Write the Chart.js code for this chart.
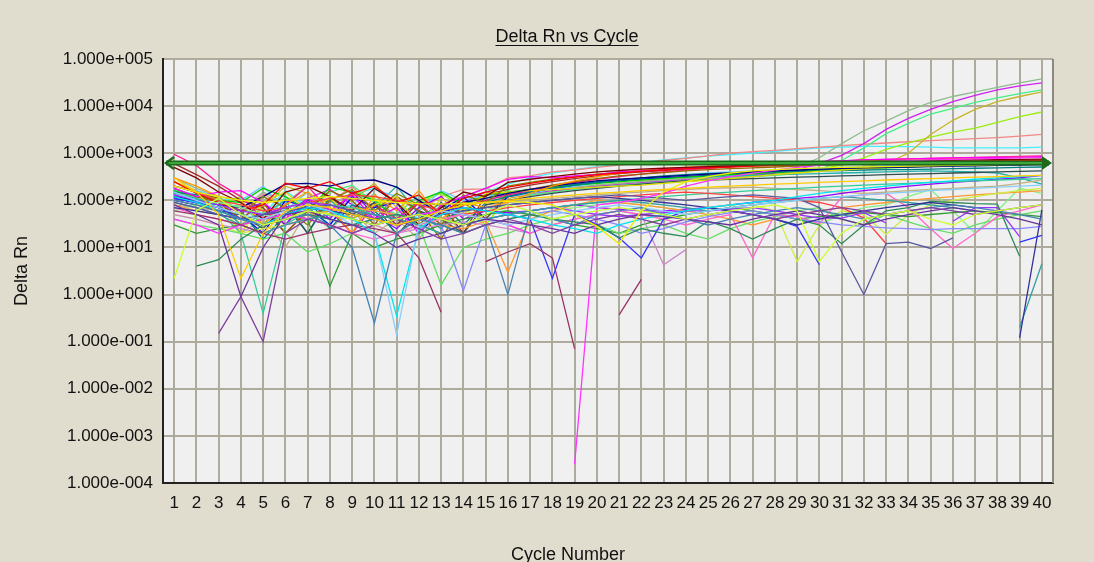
<!DOCTYPE html>
<html>
<head>
<meta charset="utf-8">
<title>Delta Rn vs Cycle</title>
<script src="https://cdn.jsdelivr.net/npm/chart.js@4.4.1/dist/chart.umd.min.js"></script>
<style>
  html, body { margin: 0; padding: 0; background: #e0ddcf; }
  #wrap { width: 1094px; height: 562px; }
</style>
</head>
<body>
<div id="wrap"><canvas id="rnChart" width="1094" height="562"></canvas></div>
<script>
// cycle numbers on the x axis
var cycles = [1, 2, 3, 4, 5, 6, 7, 8, 9, 10,
  11, 12, 13, 14, 15, 16, 17, 18, 19, 20,
  21, 22, 23, 24, 25, 26, 27, 28, 29, 30,
  31, 32, 33, 34, 35, 36, 37, 38, 39, 40];

// decades shown on the y axis
var yTicks = [1e-4, 1e-3, 1e-2, 1e-1, 1e0, 1e1, 1e2, 1e3, 1e4, 1e5];

var threshold = 620;

// amplifying wells
var rnA1 = [300, 180, 120, 60, 150, 90, 200, 120, 60, 140,
  40, 90, 60, 120, 180, 130, 150, 170, 190, 210,
  230, 250, 270, 290, 300, 310, 320, 350, 500, 800,
  1600, 3000, 4800, 8000, 12000, 16000, 20000, 25000, 31000, 38000];
var rnA2 = [200, 150, 90, 40, 90, 30, 110, 170, 80, 40,
  120, 60, 25, 90, 150, 120, 140, 160, 180, 200,
  220, 240, 260, 280, 300, 320, 340, 380, 450, 600,
  900, 1600, 3200, 5500, 8500, 12500, 17000, 22000, 27000, 31000];
var rnA3 = [150, 110, 70, 80, 30, 120, 60, 150, 210, 90,
  50, 130, 40, 60, 110, 160, 130, 150, 170, 190,
  210, 230, 250, 265, 280, 300, 320, 340, 370, 450,
  700, 1300, 2600, 4300, 6800, 9000, 12000, 15000, 18500, 22000];
var rnA4 = [250, 160, 100, 30, 70, 200, 140, 60, 100, 230,
  70, 30, 80, 50, 130, 110, 130, 150, 180, 210,
  230, 250, 270, 290, 300, 320, 340, 360, 390, 420,
  460, 520, 600, 1000, 2500, 5000, 8500, 12500, 16000, 20000];
var rnA5 = [120, 100, 80, 120, 60, 30, 90, 50, 160, 110,
  40, 90, 140, 70, 30, 120, 140, 160, 180, 200,
  220, 240, 260, 280, 300, 320, 350, 380, 420, 470,
  560, 800, 1200, 1650, 2200, 2800, 3400, 4500, 6000, 7500];
var rnA6 = [150, 120, 100, 50, 140, 70, 40, 90, 200, 60,
  110, 60, 120, 170, 175, 300, 330, 400, 440, 500,
  560, 620, 700, 780, 880, 1000, 1080, 1150, 1250, 1350,
  1450, 1550, 1650, 1750, 1850, 1950, 2050, 2150, 2300, 2500];
var rnA7 = [170, 130, 100, 110, 50, 160, 70, 30, 130, 180,
  90, 40, 70, 110, 150, 220, 300, 380, 450, 520,
  580, 640, 720, 800, 870, 940, 1000, 1100, 1200, 1300,
  1350, 1400, 1400, 1380, 1350, 1300, 1300, 1300, 1300, 1350];

// wells that level off near the threshold
var rnA8 = [500, 300, 150, 90, 40, 150, 200, 120, 60, 180,
  90, 30, 70, 150, 120, 240, 280, 320, 360, 400,
  430, 460, 480, 500, 520, 540, 560, 580, 600, 620,
  640, 660, 680, 690, 700, 710, 720, 730, 740, 750];
var rnA9 = [250, 140, 90, 60, 80, 230, 180, 250, 140, 200,
  90, 130, 50, 110, 150, 190, 230, 270, 310, 350,
  380, 410, 440, 470, 490, 510, 530, 550, 570, 590,
  610, 620, 630, 640, 650, 660, 670, 680, 690, 700];
var rnA10 = [180, 120, 150, 160, 90, 40, 110, 60, 130, 40,
  70, 20, 80, 120, 180, 280, 320, 300, 330, 350,
  400, 420, 450, 480, 510, 540, 570, 600, 630, 660,
  690, 720, 740, 760, 780, 800, 810, 820, 830, 850];
var rnA11 = [300, 200, 120, 100, 30, 80, 150, 70, 20, 130,
  60, 160, 40, 90, 70, 90, 140, 200, 260, 320,
  380, 430, 470, 500, 530, 560, 590, 610, 630, 650,
  670, 690, 710, 730, 750, 770, 790, 810, 830, 850];
var rnA12 = [200, 150, 110, 50, 120, 70, 30, 100, 170, 60,
  140, 80, 30, 130, 90, 200, 240, 280, 320, 360,
  390, 420, 450, 480, 500, 520, 540, 550, 560, 570,
  580, 590, 600, 610, 620, 630, 640, 650, 660, 670];
var rnB1 = [120, 100, 80, 70, 120, 220, 230, 200, 260, 270,
  190, 100, 50, 90, 110, 140, 170, 200, 230, 260,
  280, 300, 320, 340, 360, 380, 400, 420, 440, 460,
  480, 490, 500, 510, 520, 530, 540, 550, 560, 570];
var rnB2 = [250, 150, 100, 20, 90, 150, 60, 110, 40, 80,
  120, 30, 110, 60, 140, 150, 160, 170, 180, 190,
  200, 210, 230, 250, 270, 290, 320, 350, 380, 410,
  440, 470, 500, 520, 540, 560, 580, 600, 620, 640];
var rnB3 = [150, 130, 100, 60, 15, 50, 110, 25, 80, 60,
  20, 40, 90, 30, 90, 120, 150, 180, 210, 240,
  270, 300, 330, 350, 370, 380, 390, 400, 410, 420,
  430, 440, 450, 450, 460, 470, 480, 490, 500, 510];
var rnB4 = [180, 120, 90, 40, 90, 20, 60, 160, 100, 30,
  120, 60, 15, 90, 40, 140, 170, 210, 250, 290,
  330, 360, 390, 420, 450, 470, 490, 510, 530, 550,
  570, 590, 610, 630, 650, 670, 690, 700, 710, 720];
var rnB5 = [100, 80, 60, 50, 25, 80, 20, 120, 50, 90,
  18, 60, 40, 20, 80, 100, 120, 140, 160, 180,
  200, 220, 240, 260, 270, 280, 290, 300, 310, 320,
  330, 340, 350, 360, 370, 380, 390, 400, 410, 420];
var rnB6 = [130, 90, 70, 60, 90, 30, 100, 40, 150, 50,
  25, 70, 120, 40, 60, 55, 60, 70, 80, 70,
  65, 60, 60, 65, 70, 80, 90, 100, 110, 120,
  140, 160, 180, 200, 220, 240, 260, 280, 300, 340];
var rnB7 = [950, 550, 230, 120, 40, 80, 200, 60, 20, 80,
  40, 90, 30, 80, 100, 130, 160, 200, 240, 280,
  320, 360, 400, 440, 480, 520, 560, 600, 630, 660,
  690, 720, 740, 760, 780, 800, 820, 840, 860, 880];
var rnB8 = [600, 350, 200, 100, 70, 20, 60, 110, 40, 90,
  30, 90, 80, 20, 130, 170, 210, 250, 290, 330,
  370, 400, 430, 460, 490, 520, 550, 580, 610, 640,
  660, 680, 700, 720, 740, 760, 780, 800, 820, 840];
var rnB9 = [160, 120, 100, 90, 180, 120, 60, 190, 150, 100,
  40, 100, 150, 80, 130, 150, 170, 190, 210, 230,
  250, 270, 290, 310, 330, 350, 370, 390, 410, 430,
  450, 470, 490, 510, 530, 550, 570, 590, 610, 630];
var rnB10 = [110, 90, 60, 50, 20, 100, 70, 30, 120, 70,
  90, 20, 60, 120, 40, 120, 150, 180, 210, 240,
  260, 280, 300, 320, 340, 360, 380, 400, 420, 440,
  460, 480, 500, 520, 540, 560, 580, 600, 620, 640];
var rnB11 = [200, 160, 120, 100, 200, 60, 150, 60, 80, 170,
  120, 60, 160, 100, 130, 120, 140, 170, 200, 230,
  260, 290, 320, 350, 380, 400, 420, 440, 460, 480,
  500, 520, 540, 560, 580, 600, 620, 640, 660, 680];
var rnB12 = [80, 70, 60, 20, 40, 10, 60, 25, 60, 20,
  40, 15, 60, 20, 80, 90, 100, 110, 120, 130,
  140, 150, 160, 170, 180, 185, 190, 180, 170, 160,
  150, 140, 150, 160, 170, 180, 190, 200, 230, 270];
var rnC1 = [140, 110, 80, 30, 50, 100, 20, 100, 40, 70,
  200, 50, 25, 80, 100, 130, 160, 190, 220, 250,
  270, 290, 300, 310, 320, 330, 340, 350, 360, 370,
  380, 390, 400, 410, 420, 410, 400, 380, 300, 220];
var rnC2 = [60, 80, 90, 70, 50, 40, 50, 60, 70, 60,
  50, 40, 50, 60, 70, 60, 50, 60, 70, 80,
  90, 80, 70, 60, 70, 80, 60, 50, 40, 30,
  50, 70, 80, 120, 170, 60, 20, 60, 180, 140];

// noisy low wells
var rnC3 = [2.2, 60, 110, 50, 30, 40, 60, 50, 40, 30,
  40, 50, 40, 30, 50, 80, 60, 40, 50, 60,
  70, 60, 50, 40, 50, 60, 70, 80, 60, 5,
  20, 40, 50, 60, 40, 30, 50, 60, 70, 80];
var rnC4 = [300, 150, 50, 2.2, 20, 60, 80, 70, 50, 40,
  30, 40, 60, 80, 90, 100, 110, 120, 130, 140,
  150, 160, 170, 180, 190, 200, 210, 220, 230, 240,
  250, 260, 270, 280, 290, 300, 310, 320, 330, 340];
var rnC5 = [200, 150, 120, 100, 90, 100, 110, 120, 110, 100,
  90, 85, 83, 85, 90, 95, 90, 80, 50, 28,
  12, 60, 150, 250, 320, 380, 420, 450, 470, 490,
  500, 510, 520, 530, 540, 550, 560, 570, 580, 590];
var rnC6 = [null, null, 0.15, 0.9, 0.1, 20, 40, 30, 20, 30,
  40, 25, 15, 20, 30, 40, 30, 20, 30, 40,
  50, 40, 30, 40, 50, 60, 50, 40, 50, 60,
  70, 60, 50, 60, 70, 60, 50, 60, 70, 80];
var rnC7 = [80, 50, 30, 0.9, 10, 50, 60, 40, 30, 20,
  10, 15, 20, 30, 40, 35, 30, 25, 20, 30,
  40, 50, 45, 40, 35, 30, 40, 50, 60, 50,
  40, 30, 40, 50, 60, 70, 60, 50, 40, 30];
var rnC8 = [100, 80, 60, 40, 30, 40, 50, 30, 10, 0.25,
  20, 40, 30, 20, 30, 1.0, 60, 40, 30, 50,
  60, 70, 50, 40, 30, 40, 50, 60, 70, 60,
  50, 40, 50, 60, 70, 80, 70, 60, 50, 40];
var rnC9 = [150, 100, 70, 50, 40, 60, 80, 60, 30, 20,
  0.14, 30, 60, 50, 40, 30, 40, 50, 60, 70,
  80, 70, 60, 50, 60, 70, 80, 90, 100, 110,
  120, 130, 140, 150, 160, 170, 180, 190, 200, 210];
var rnC10 = [120, 90, 60, 40, 30, 50, 70, 60, 40, 20,
  0.35, 25, 50, 70, 60, 50, 40, 30, 25, 20,
  30, 40, 50, 60, 70, 80, 90, 100, 120, 140,
  160, 180, 200, 220, 240, 260, 280, 300, 320, 340];
var rnC11 = [60, 50, 40, 30, 20, 15, 20, 25, 30, 25,
  20, 6, 0.42, null, 5, 8, 12, 6, 0.07, null,
  0.37, 2.1, null, null, null, null, null, null, null, null,
  null, null, null, null, null, null, null, null, null, null];
var rnC12 = [40, 30, 20, 30, 40, 50, 40, 30, 20, 30,
  40, 50, 60, 50, 40, 30, 20, null, 0.00025, 80,
  90, 110, 140, 200, 260, 320, 380, 440, 500, 560,
  600, 640, 680, 700, 720, 740, 760, 780, 800, 820];
var rnD1 = [90, 70, 50, 40, 50, 60, 70, 80, 60, 40,
  30, 40, 50, 60, 70, 80, 90, 100, 110, 120,
  130, 120, 110, 100, 110, 120, 130, 120, 110, 70,
  8, 1, 12, 13, 9.5, 16, null, null, null, null];
var rnD2 = [70, 60, 50, 40, 50, 60, 70, 60, 50, 40,
  30, 40, 50, 60, 70, 80, 90, 100, 110, 120,
  110, 100, 90, 80, 70, 60, 50, 40, 30, 40,
  50, 60, 70, 80, 90, 80, 70, null, 0.12, 63];
var rnD3 = [90, 70, 50, 30, 20, 30, 40, 50, 60, 50,
  40, 30, 20, 30, 40, 50, 60, 70, 80, 90,
  100, 90, 80, 70, 60, 70, 80, 90, 100, 110,
  120, 110, 100, 90, 80, 70, 60, null, 0.2, 4.5];
var rnD4 = [null, 4, 5.5, 15, 30, 40, 50, 40, 30, 40,
  50, 40, 30, 20, 30, 40, 50, 40, 35, 30,
  16, 25, 20, 17, 36, 25, 15, 25, 40, 30,
  12, 30, 60, 70, 95, 90, 85, 83, 6.5, null];
var rnD5 = [110, 90, 70, 40, 30, 50, 70, 60, 40, 30,
  40, 50, 60, 70, 60, 50, 40, 2.2, 50, 31,
  16, 6, 40, 60, 70, 60, 50, 40, 28, 4.3,
  null, null, null, null, null, null, null, null, 13, 18];
var rnD6 = [130, 100, 80, 60, 50, 70, 90, 80, 60, 50,
  40, 50, 60, 50, 40, 50, 60, 70, 60, 50,
  45, 50, 55, 60, 60, 65, 70, 60, 50, 42,
  42, 55, 33, null, null, 36, 70, 70, 17, null];
var rnD7 = [90, 70, 50, 40, 30, 40, 50, 40, 30, 40,
  50, 40, 30, 1.2, 30, 40, 50, 60, 50, 40,
  30, 20, 25, 35, 45, 55, 60, 50, 40, 35,
  30, 28, 26, 25, 24, 25, 25, 25, 25, 28];
var rnD8 = [70, 50, 40, 30, 20, 30, 40, 30, 20, 15,
  20, 30, 40, 50, 40, 30, 20, 30, 40, 50,
  60, 50, 40, 30, 40, 50, 6, 50, 45, 32,
  115, 130, 140, 70, 25, 9.5, 20, 45, 60, 80];
var rnD9 = [50, 40, 30, 25, 20, 30, 40, 50, 40, 30,
  20, 25, 30, 35, 30, 25, 20, 30, 40, 50,
  60, 50, 4.3, 9, null, null, null, null, null, null,
  null, null, null, null, null, null, null, null, null, null];
var rnD10 = [40, 30, 25, 20, 15, 20, 8, 12, 20, 30,
  40, 30, 1.6, 10, 15, 20, 30, 40, 50, 30,
  20, 25, 30, 20, 15, 25, 35, 45, 60, 70,
  40, 30, 50, 35, 25, 20, 30, 40, 50, 60];
var rnD11 = [200, 150, 100, 80, 60, 70, 90, 110, 130, 120,
  100, 80, 60, 50, 60, 70, 80, 90, 100, 110,
  120, 130, 140, 150, 140, 130, 120, 110, 100, 90,
  70, 42, 12, null, null, null, null, null, null, null];
var rnD12 = [30, 20, 25, 30, 40, 50, 40, 1.5, 20, 10,
  15, 20, 30, 40, 50, 60, 50, 40, 30, 25,
  20, 30, 40, 50, 60, 70, 60, 50, 40, 45,
  50, 55, 50, 45, 50, 55, 60, 55, 50, 45];
var rnE1 = [50, 40, 30, 20, 25, 30, 40, 50, 40, 30,
  20, 30, 40, 50, 40, 30, 20, 30, 40, 50,
  60, 50, 40, 50, 60, 70, 80, 60, 5, 30,
  60, 50, 19, 50, 80, 100, 120, 140, 160, 180];
var rnE2 = [150, 100, 60, 20, 0.4, 30, 60, 80, 70, 50,
  40, 30, 20, 30, 40, 50, 60, 70, 80, 90,
  100, 110, 120, 130, 140, 150, 160, 170, 180, 190,
  200, 210, 220, 230, 240, 250, 260, 270, 280, 290];
var rnE3 = [80, 60, 50, 40, 30, 40, 50, 60, 70, 60,
  50, 40, 30, 25, 36, 3, 40, 60, 80, 100,
  90, 80, 70, 60, 50, 40, 30, 40, 50, 60,
  70, 80, 90, 100, 110, 120, 130, 140, 150, 160];

// drawing order: low noisy wells first, amplifying ones last
var wellNames = ['C3', 'C4', 'C5', 'C6', 'C7', 'C8', 'C9', 'C10', 'C11', 'C12',
  'D1', 'D2', 'D3', 'D4', 'D5', 'D6', 'D7', 'D8', 'D9', 'D10', 'D11', 'D12',
  'E1', 'E2', 'E3', 'C2',
  'A8', 'A9', 'A10', 'A11', 'A12', 'B1', 'B2', 'B3', 'B4', 'B5', 'B6',
  'B7', 'B8', 'B9', 'B10', 'B11', 'B12', 'C1',
  'A1', 'A2', 'A3', 'A4', 'A5', 'A6', 'A7'];
var wellData = [rnC3, rnC4, rnC5, rnC6, rnC7, rnC8, rnC9, rnC10, rnC11, rnC12,
  rnD1, rnD2, rnD3, rnD4, rnD5, rnD6, rnD7, rnD8, rnD9, rnD10, rnD11, rnD12,
  rnE1, rnE2, rnE3, rnC2,
  rnA8, rnA9, rnA10, rnA11, rnA12, rnB1, rnB2, rnB3, rnB4, rnB5, rnB6,
  rnB7, rnB8, rnB9, rnB10, rnB11, rnB12, rnC1,
  rnA1, rnA2, rnA3, rnA4, rnA5, rnA6, rnA7];
var wellColors = ['#ccff33', '#ffcc00', '#eeee00', '#8040a0', '#663399', '#4682b4', '#87cefa', '#00e5ee', '#993366', '#ff33ff',
  '#5a5aa0', '#333399', '#33a0a0', '#2e8b57', '#3333ff', '#9933ff', '#8888ff', '#ff66cc', '#cc88cc', '#66dd66', '#ff4040', '#339933',
  '#ccee44', '#33cc99', '#ff9933', '#88ee88',
  '#800000', '#ff0000', '#ff00ff', '#ff9900', '#808000', '#000080', '#dddd00', '#008080', '#996600', '#2f4f4f', '#9900ff',
  '#ff1493', '#a52a2a', '#00cc00', '#0000ff', '#66ccff', '#c0b080', '#20b2aa',
  '#8fbc8f', '#cc22ee', '#44ee88', '#c8b428', '#99ee11', '#f08888', '#44eeff'];

var chartTitle = 'Delta Rn vs Cycle';
var xTitle = 'Cycle Number';
var fontFam = '"Liberation Sans", Arial, sans-serif';
var gridCol = '#aeaa9c';

function sciLabel(v) {
  var e = Math.round(Math.log10(v));
  var m = v / Math.pow(10, e);
  return m.toFixed(3) + 'e' + (e < 0 ? '-' : '+') + String(Math.abs(e)).padStart(3, '0');
}

// plot background, threshold bar with arrow heads, titles
var framePlugin = {
  id: 'frame',
  beforeDraw: function (chart) {
    var a = chart.chartArea, c = chart.ctx;
    c.save();
    c.fillStyle = '#f0f0f0';
    c.fillRect(a.left, a.top, a.right - a.left, a.bottom - a.top);
    c.restore();
  },
  afterDatasetsDraw: function (chart) {
    var a = chart.chartArea, c = chart.ctx;
    var y = chart.scales.y.getPixelForValue(threshold);
    c.save();
    // right edge of the plot
    c.strokeStyle = '#8c8a80';
    c.lineWidth = 2;
    c.beginPath();
    c.moveTo(a.right, a.top);
    c.lineTo(a.right, a.bottom);
    c.stroke();
    // threshold bar
    c.strokeStyle = '#1d6a1d';
    c.lineWidth = 5;
    c.beginPath();
    c.moveTo(a.left + 3, y);
    c.lineTo(a.right - 4, y);
    c.stroke();
    c.strokeStyle = '#3aa83a';
    c.lineWidth = 2;
    c.beginPath();
    c.moveTo(a.left + 4, y);
    c.lineTo(a.right - 6, y);
    c.stroke();
    // left arrow head
    c.strokeStyle = '#1d6a1d';
    c.lineWidth = 2.5;
    c.beginPath();
    c.moveTo(a.left + 11, y - 6);
    c.lineTo(a.left + 3, y);
    c.lineTo(a.left + 11, y + 6);
    c.stroke();
    // right arrow head
    c.fillStyle = '#1d6a1d';
    c.beginPath();
    c.moveTo(a.right - 11, y - 7);
    c.lineTo(a.right - 1, y);
    c.lineTo(a.right - 11, y + 7);
    c.closePath();
    c.fill();
    c.restore();
  },
  afterDraw: function (chart) {
    var c = chart.ctx;
    c.save();
    c.fillStyle = '#111';
    c.font = '18px ' + fontFam;
    c.textAlign = 'center';
    c.textBaseline = 'alphabetic';
    c.fillText(chartTitle, 567, 42);
    var w = c.measureText(chartTitle).width;
    c.strokeStyle = '#111';
    c.lineWidth = 1;
    c.beginPath();
    c.moveTo(567 - w / 2, 45.5);
    c.lineTo(567 + w / 2, 45.5);
    c.stroke();
    c.fillText(xTitle, 568, 560);
    c.restore();
  }
};

var ctx = document.getElementById('rnChart').getContext('2d');

var rnChart = new Chart(ctx, {
  type: 'line',
  data: {
    labels: cycles,
    datasets: wellData.map(function (d, i) {
      return {
        label: wellNames[i],
        data: d,
        borderColor: wellColors[i],
        borderWidth: 1.3,
        pointRadius: 0,
        fill: false,
        tension: 0,
        spanGaps: false
      };
    })
  },
  options: {
    responsive: false,
    animation: false,
    devicePixelRatio: 1,
    layout: { padding: { top: 59, right: 41, left: 0, bottom: 0 } },
    plugins: {
      legend: { display: false },
      tooltip: { enabled: false },
      title: { display: false }
    },
    scales: {
      x: {
        type: 'category',
        offset: true,
        grid: { offset: false, color: gridCol, lineWidth: 2, drawTicks: false },
        border: { color: '#222', width: 2 },
        ticks: {
          autoSkip: false,
          maxRotation: 0,
          minRotation: 0,
          padding: 10,
          color: '#111',
          font: { family: fontFam, size: 17 }
        },
        afterFit: function (s) { s.height = 79; }
      },
      y: {
        type: 'logarithmic',
        min: 1e-4,
        max: 1e5,
        afterBuildTicks: function (ax) {
          ax.ticks = yTicks.map(function (v) { return { value: v }; });
        },
        grid: { color: gridCol, lineWidth: 2, drawTicks: false },
        border: { color: '#222', width: 2 },
        ticks: {
          padding: 10,
          color: '#111',
          font: { family: fontFam, size: 17 },
          callback: function (v) { return sciLabel(v); }
        },
        title: {
          display: true,
          text: 'Delta Rn',
          color: '#111',
          font: { family: fontFam, size: 18 },
          padding: { top: 11, bottom: 0 }
        },
        afterFit: function (s) { s.width = 163; }
      }
    }
  },
  plugins: [framePlugin]
});
</script>
</body>
</html>
